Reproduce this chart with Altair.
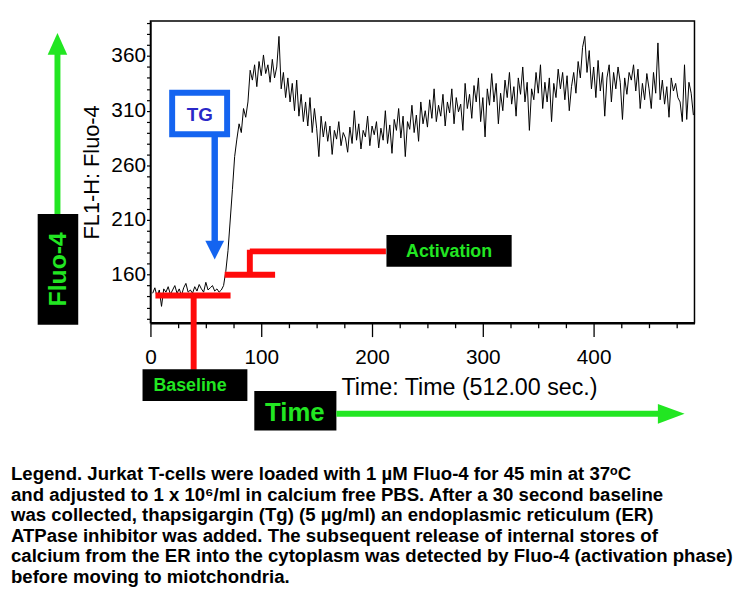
import altair as alt
import pandas as pd

# ---------------- data ----------------
fluo = [
    143, 148, 140, 146, 131, 147, 144, 149, 142, 146, 150, 143, 147, 141, 148, 152,
    144, 146, 143, 149, 145, 151, 147, 144, 153, 146, 148, 150, 145, 147, 144,
    146, 150, 163, 182, 210, 238, 268, 284, 298, 290,
    312, 304, 318, 347, 338, 352, 332, 355, 342, 361,
    344, 352, 336, 357, 340, 350, 378, 330, 345, 322,
    340, 318, 335, 310, 338, 305, 325, 300, 318, 296,
    322, 290, 312, 294, 268, 305, 286, 300, 282, 296,
    270, 292, 284, 300, 278, 290, 285, 272, 295, 280,
    310, 283, 298, 275, 292, 286, 305, 278, 296, 288,
    300, 276, 294, 283, 310, 280, 297, 271, 302, 292,
    312, 285, 305, 268, 300, 293, 315, 290, 306, 282,
    318, 298, 310, 295, 320, 303, 330, 300, 315, 305,
    325, 296, 318, 308, 330, 298, 322, 309, 316, 292,
    335, 312, 325, 303, 333, 318, 340, 300, 322, 286,
    330, 315, 344, 318, 335, 298, 326, 310, 338, 322,
    345, 316, 332, 305, 340, 325, 350, 318, 336, 292,
    330, 320, 345, 326, 352, 312, 336, 318, 340, 300,
    335, 322, 348, 330, 345, 320, 342, 310, 332, 345,
    326, 355, 340, 368, 378, 345, 365, 330, 350, 322,
    356, 328, 345, 305, 340, 352, 318, 345, 330, 350,
    336, 302, 340, 325, 345, 338, 352, 328, 348, 312,
    335, 320, 344, 330, 312, 345, 326, 372, 320, 338,
    316, 332, 304, 340, 328, 335, 322, 318, 300, 352,
    302, 336, 326, 306,
]
time_sec = list(range(2, 2 + 2 * len(fluo), 2))

x_tick_values = [0, 25, 50, 75, 100, 125, 150, 175, 200, 225, 250, 275,
                 300, 325, 350, 375, 400, 425, 450, 475]
y_tick_values = [120, 130, 140, 150, 160, 170, 180, 190, 200, 210, 220, 230,
                 240, 250, 260, 270, 280, 290, 300, 310, 320, 330, 340, 350,
                 360, 370, 380, 390]
x_title = "Time: Time (512.00 sec.)"
y_title = "FL1-H: Fluo-4"

caption_lines = [
    "Legend. Jurkat T-cells were loaded with 1 \u00b5M Fluo-4 for 45 min  at 37\u1d52C",
    "and adjusted to 1 x 10\u2076/ml in calcium free PBS. After a 30 second baseline",
    "was collected, thapsigargin (Tg) (5 \u00b5g/ml) an endoplasmic reticulum (ER)",
    "ATPase inhibitor was added. The subsequent release of internal stores of",
    "calcium from the ER into the cytoplasm was detected by Fluo-4 (activation phase)",
    "before moving to miotchondria.",
]

# ---------------- styling ----------------
FONT = "Liberation Sans, Arial, Helvetica, sans-serif"
RED = "#ff0a0a"
GREEN = "#22e622"
BLUE = "#1464f0"
TGTEXT = "#2a28c8"

xs = alt.Scale(domain=[0, 491], nice=False, zero=False)
ys = alt.Scale(domain=[116, 392], nice=False, zero=False)

xaxis = alt.Axis(
    values=x_tick_values,
    labelExpr="datum.value % 100 === 0 ? datum.label : ''",
    tickSize={"condition": {"test": "datum.value % 100 === 0", "value": 14}, "value": 5},
    tickColor="black", tickWidth=1.3,
    domainColor="black", domainWidth=2.5,
    labelFont=FONT, labelFontSize=21, labelColor="black", labelPadding=10,
    labelFlush=False, labelOverlap=False, labelBound=False,
    grid=False,
    titleFont=FONT, titleFontSize=23.5, titleFontWeight="normal", titleColor="black",
    titleX=322, titleY=73, titleAlign="center", titleBaseline="alphabetic",
)
yaxis = alt.Axis(
    values=y_tick_values,
    labelExpr="datum.value % 50 === 10 ? datum.label : ''",
    tickSize=4, tickColor="black", tickWidth=1.2,
    domainColor="black", domainWidth=1.5,
    labelFont=FONT, labelFontSize=21, labelColor="black", labelPadding=1,
    labelOverlap=False, labelFlush=False, labelBound=False,
    grid=False,
    titleFont=FONT, titleFontSize=22, titleFontWeight="normal", titleColor="black",
    titlePadding=7,
)


def X(field):
    return alt.X(field, type="quantitative", scale=xs, axis=xaxis, title=x_title)


def Y(field):
    return alt.Y(field, type="quantitative", scale=ys, axis=yaxis, title=y_title)


trace_df = pd.DataFrame({"t": time_sec, "v": fluo})
trace = alt.Chart(trace_df).mark_line(color="black", strokeWidth=1, clip=True).encode(
    x=X("t"), y=Y("v")
)

# ---- red brackets (data coordinates) ----
brackets = pd.DataFrame({
    "t": [4.5, 39, 67, 89.7, 89.7],
    "t2": [72.3, 39, 112.5, 89.7, 212.5],
    "v": [141, 141, 160, 158.5, 181.3],
    "v2": [141, 73, 160, 182.8, 181.3],
})
red = alt.Chart(brackets).mark_rule(color=RED, strokeWidth=6).encode(
    x=X("t"), x2="t2", y=Y("v"), y2="v2"
)

# ---- Activation label ----
act_box = alt.Chart(pd.DataFrame({"t": [213], "t2": [326], "v": [167.2], "v2": [196.2]})).mark_rect(
    color="black").encode(x=X("t"), x2="t2", y=Y("v"), y2="v2")
act_text = alt.Chart(pd.DataFrame({"t": [269.5], "v": [181], "s": ["Activation"]})).mark_text(
    font=FONT, fontSize=18, fontWeight="bold", color=GREEN, align="center", baseline="middle"
).encode(x=X("t"), y=Y("v"), text="s:N")

# ---- TG box and arrow ----
tg_box = alt.Chart(pd.DataFrame({"t": [19.6], "t2": [69.2], "v": [288.5], "v2": [326.5]})).mark_rect(
    fill="white", stroke=BLUE, strokeWidth=6).encode(x=X("t"), x2="t2", y=Y("v"), y2="v2")
tg_text = alt.Chart(pd.DataFrame({"t": [44.6], "v": [306], "s": ["TG"]})).mark_text(
    font=FONT, fontSize=19, fontWeight="bold", color=TGTEXT, align="center", baseline="middle"
).encode(x=X("t"), y=Y("v"), text="s:N")
tg_shaft = alt.Chart(pd.DataFrame({"t": [58], "v": [286], "v2": [189]})).mark_rule(
    color=BLUE, strokeWidth=6.5).encode(x=X("t"), y=Y("v"), y2="v2")
tg_head = alt.Chart(pd.DataFrame({"t": [58], "v": [182.5]})).mark_point(
    shape="M -1 -1 L 1 -1 L 0 1 Z", size=361, filled=True, opacity=1, color=BLUE, strokeWidth=0
).encode(x=X("t"), y=Y("v"))

# ---- decorations outside the plot area (pixels from plot origin) ----
one = alt.Data(values=[{}])

base_box = alt.Chart(one).mark_rect(color="black").encode(
    x=alt.value(-8), x2=alt.value(98), y=alt.value(352), y2=alt.value(384))
base_text = alt.Chart(one).mark_text(
    font=FONT, fontSize=18, fontWeight="bold", color=GREEN, align="center", baseline="middle"
).encode(x=alt.value(40), y=alt.value(369), text=alt.value("Baseline"))

time_box = alt.Chart(one).mark_rect(color="black").encode(
    x=alt.value(105), x2=alt.value(188), y=alt.value(374), y2=alt.value(414))
time_text = alt.Chart(one).mark_text(
    font=FONT, fontSize=26, fontWeight="bold", color=GREEN, align="center", baseline="middle"
).encode(x=alt.value(146), y=alt.value(396), text=alt.value("Time"))
time_shaft = alt.Chart(one).mark_rule(color=GREEN, strokeWidth=6).encode(
    x=alt.value(188), x2=alt.value(515), y=alt.value(397))
time_head = alt.Chart(one).mark_point(
    shape="M -1 -0.74 L 1 0 L -1 0.74 Z", size=729, filled=True, opacity=1, color=GREEN, strokeWidth=0
).encode(x=alt.value(526.5), y=alt.value(397))

fl_box = alt.Chart(one).mark_rect(color="black").encode(
    x=alt.value(-114), x2=alt.value(-73), y=alt.value(195), y2=alt.value(307))
fl_text = alt.Chart(one).mark_text(
    font=FONT, fontSize=25, fontWeight="bold", color=GREEN, align="center", baseline="middle", angle=270
).encode(x=alt.value(-93), y=alt.value(251), text=alt.value("Fluo-4"))
fl_shaft = alt.Chart(one).mark_rule(color=GREEN, strokeWidth=6).encode(
    x=alt.value(-94), y=alt.value(195), y2=alt.value(32))
fl_head = alt.Chart(one).mark_point(
    shape="M -0.9 1 L 0 -1 L 0.9 1 Z", size=484, filled=True, opacity=1, color=GREEN, strokeWidth=0
).encode(x=alt.value(-94), y=alt.value(23))

caption = alt.Chart(one).mark_text(
    font=FONT, fontSize=18.8, fontWeight="bold", color="black", align="left", baseline="top",
    lineHeight=20.8
).encode(x=alt.value(-141), y=alt.value(449), text=alt.value(caption_lines))

chart = alt.layer(
    trace, red, act_box, act_text, tg_box, tg_text, tg_shaft, tg_head,
    base_box, base_text, time_box, time_text, time_shaft, time_head,
    fl_box, fl_text, fl_shaft, fl_head, caption,
).properties(
    width=550, height=305,
    autosize=alt.AutoSizeParams(type="none"),
    padding={"left": 144, "top": 10, "right": 45, "bottom": 272},
).configure(background="white").configure_view(stroke="black", strokeWidth=1.5)

chart.save("out.html", embed_options={"renderer": "svg", "actions": False})
